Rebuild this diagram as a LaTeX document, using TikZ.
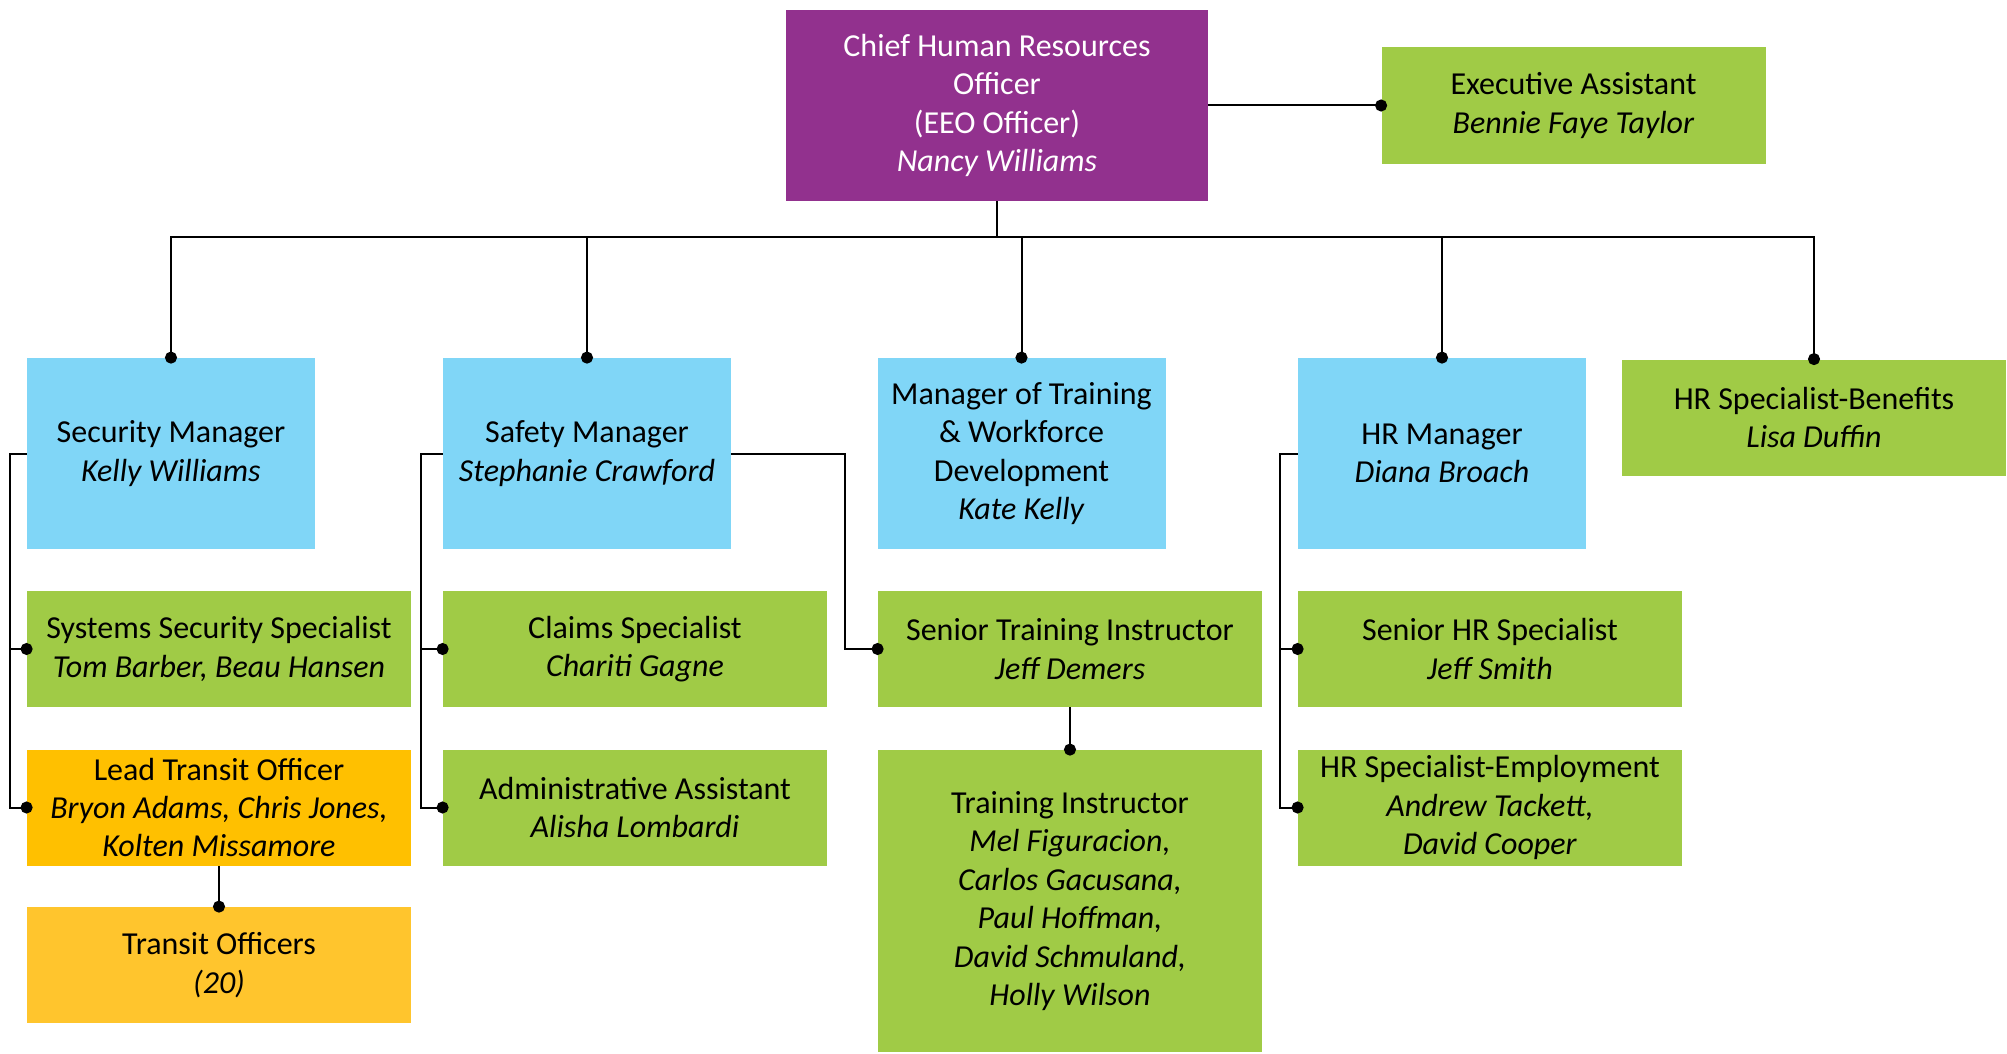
\documentclass[tikz,border=0pt]{standalone}
\usepackage{fontspec}
\setmainfont{Carlito}
\usepackage{tikz}
\usetikzlibrary{arrows.meta}
\usetikzlibrary{positioning,calc}

\definecolor{chiefpurple}{HTML}{92318E}
\definecolor{mgrblue}{HTML}{80D6F7}
\definecolor{staffgreen}{HTML}{A0CB46}
\definecolor{leadorange}{HTML}{FFC000}
\definecolor{crewgold}{HTML}{FFC52D}

\tikzset{
    box/.style={
           rectangle,
           inner sep=0pt,
           align=center,
           font=\fontsize{16pt}{19.2pt}\selectfont,
           },
    chief/.style={
           box,
           fill=chiefpurple,
           text=white,
           minimum width=211pt,
           minimum height=95.5pt,
           },
    manager/.style={
           box,
           fill=mgrblue,
           minimum width=144pt,
           minimum height=95.5pt,
           },
    staff/.style={
           box,
           fill=staffgreen,
           minimum width=192pt,
           minimum height=58pt,
           },
    lead/.style={
           staff,
           fill=leadorange,
           },
    crew/.style={
           staff,
           fill=crewgold,
           },
    link/.style={
           line width=1pt,
           -{Circle[length=6pt]},
           shorten >=-3pt,
           },
}

\begin{document}
\begin{tikzpicture}

 \useasboundingbox (0,0) rectangle (1003.5pt,-527pt);

 % Top node
 \node[chief] (CHRO) at (498.5pt,-52.75pt)
 {%
Chief Human Resources\\Officer\\(EEO Officer)\\\textit{Nancy Williams}
 };

 \node[staff,
 right of=CHRO,
 node distance=288.25pt] (EXEC)
 {%
Executive Assistant\\\textit{Bennie Faye Taylor}
 };

 % Managers row
 \node[manager,
 below of=CHRO,
 node distance=174pt,
 xshift=-413pt] (SEC)
 {%
Security Manager\\\textit{Kelly Williams}
 };

 \node[manager,
 right of=SEC,
 node distance=208pt] (SAF)
 {%
Safety Manager\\\textit{Stephanie Crawford}
 };

 \node[manager,
 right of=SAF,
 node distance=217.25pt] (TRN)
 {%
Manager of Training\\\& Workforce\\Development\\\textit{Kate Kelly}
 };

 \node[manager,
 right of=TRN,
 node distance=210.25pt] (HRM)
 {%
HR Manager\\\textit{Diana Broach}
 };

 \node[staff,
 right of=HRM,
 node distance=186pt,
 yshift=18pt] (BEN)
 {%
HR Specialist-Benefits\\\textit{Lisa Duffin}
 };

 % Staff rows
 \node[staff,
 below of=SEC,
 node distance=97.75pt,
 xshift=24pt] (SYS)
 {%
Systems Security Specialist\\\textit{Tom Barber, Beau Hansen}
 };

 \node[lead,
 below of=SYS,
 node distance=79.25pt] (LEAD)
 {%
Lead Transit Officer\\\textit{Bryon Adams, Chris Jones,}\\\textit{Kolten Missamore}
 };

 \node[crew,
 below of=LEAD,
 node distance=78.75pt] (TRANSIT)
 {%
Transit Officers\\\textit{(20)}
 };

 \node[staff,
 below of=SAF,
 node distance=97.75pt,
 xshift=24pt] (CLM)
 {%
Claims Specialist\\\textit{Chariti Gagne}
 };

 \node[staff,
 below of=CLM,
 node distance=79.25pt] (ADM)
 {%
Administrative Assistant\\\textit{Alisha Lombardi}
 };

 \node[staff,
 below of=TRN,
 node distance=97.75pt,
 xshift=24.25pt] (SENT)
 {%
Senior Training Instructor\\\textit{Jeff Demers}
 };

 \node[staff,
 below of=SENT,
 node distance=126pt,
 minimum height=151pt] (TI)
 {%
Training Instructor\\\textit{Mel Figuracion,}\\\textit{Carlos Gacusana,}\\\textit{Paul Hoffman,}\\\textit{David Schmuland,}\\\textit{Holly Wilson}
 };

 \node[staff,
 below of=HRM,
 node distance=97.75pt,
 xshift=24pt] (HRS)
 {%
Senior HR Specialist\\\textit{Jeff Smith}
 };

 \node[staff,
 below of=HRS,
 node distance=79.25pt] (HRE)
 {%
HR Specialist-Employment\\\textit{Andrew Tackett,}\\\textit{David Cooper}
 };

 % bus under the chief
 \coordinate[below=18pt of CHRO.south] (BUS);

 % draw the connectors
 \draw[link] (CHRO.east) -- (EXEC.west);
 \draw[line width=1pt] (CHRO.south) -- (BUS);
 \foreach \mgr in {SEC,SAF,TRN,HRM,BEN}
   \draw[link] (BUS) -| (\mgr.north);

 \draw[link] (SEC.west) -- ++(-8.5pt,0) |- (SYS.west);
 \draw[link] (SEC.west) -- ++(-8.5pt,0) |- (LEAD.west);
 \draw[link] (LEAD.south) -- (TRANSIT.north);

 \draw[link] (SAF.west) -- ++(-11pt,0) |- (CLM.west);
 \draw[link] (SAF.west) -- ++(-11pt,0) |- (ADM.west);
 \draw[link] (SAF.east) -- ++(57pt,0) |- (SENT.west);
 \draw[link] (SENT.south) -- (TI.north);

 \draw[link] (HRM.west) -- ++(-9pt,0) |- (HRS.west);
 \draw[link] (HRM.west) -- ++(-9pt,0) |- (HRE.west);

\end{tikzpicture}
\end{document}
